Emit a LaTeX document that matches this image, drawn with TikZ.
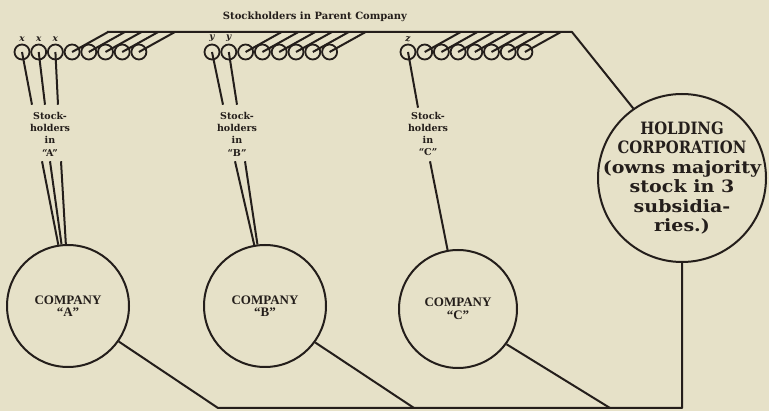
\documentclass[tikz,border=0pt]{standalone}
\usepackage{fontspec}
\usepackage{graphicx}
\usepackage{tikz}
\usetikzlibrary{positioning,calc}
\newfontfamily\holdfont[FakeStretch=1.12]{DejaVu Serif}
\newfontfamily\lblfont{DejaVu Serif}
\newfontfamily\compfont{Liberation Serif}
\definecolor{paper}{RGB}{230,225,200}
\definecolor{ink}{RGB}{36,30,27}
\newcommand{\capline}[1]{\scalebox{0.78}[1]{#1}}

\begin{document}
\begin{tikzpicture}[x=1pt, y=-1pt, line join=round,
    holder/.style={draw=ink, circle, line width=1.8pt, minimum size=15pt, inner sep=0pt},
    comp/.style={draw=ink, circle, line width=2pt, minimum size=122pt, inner sep=0pt, align=center, text=ink, font=\compfont\bfseries\fontsize{13}{12.5}\selectfont},
    hold/.style={draw=ink, circle, line width=2pt, minimum size=168pt, inner sep=0pt},
    holdtxt/.style={align=center, inner sep=0pt, text=ink, font=\holdfont\bfseries\fontsize{17}{19.5}\selectfont},
    lbl/.style={align=center, inner sep=1pt, text=ink, font=\lblfont\bfseries\fontsize{9.5}{12.3}\selectfont},
    tag/.style={inner sep=0pt, text=ink, font=\lblfont\bfseries\itshape\fontsize{9}{9}\selectfont},
    ln/.style={draw=ink, line width=2pt}
]
\fill[paper] (0,0) rectangle (769,411);
\useasboundingbox (0,0) rectangle (769,411);

\node[lbl, font=\lblfont\bfseries\fontsize{10}{12}\selectfont] (title) at (315,17) {Stockholders in Parent Company};

\foreach \i in {1,...,8} {
  \node[holder] (a\i) at ({22+16.7*(\i-1)},52) {};
  \node[holder] (b\i) at ({212+16.8*(\i-1)},52) {};
  \node[holder] (c\i) at ({408+16.7*(\i-1)},52) {};
}
\foreach \i in {1,2,3} \node[tag, above=1.5pt of a\i] (ax\i) {x};
\foreach \i in {1,2} \node[tag, above=1.5pt of b\i] (by\i) {y};
\node[tag, above=1.5pt of c1] (cz1) {z};

\coordinate (topL) at (107,32);
\coordinate (topR) at (572,32);

\node[lbl] (sA) at (50,134) {Stock-\\holders\\in\\“A”};
\node[lbl] (sB) at (237,134) {Stock-\\holders\\in\\“B”};
\node[lbl] (sC) at (428,134) {Stock-\\holders\\in\\“C”};

\node[comp] (cA) at (68,306) {COMPANY\\“A”};
\node[comp] (cB) at (265,306) {COMPANY\\“B”};
\node[comp, minimum size=118pt] (cC) at (458,309) {COMPANY\\“C”};
\node[hold] (hold) at (682,178) {};
\node[holdtxt] (holdtext) at (hold.center) {\capline{HOLDING}\\\capline{CORPORATION}\\(owns majority\\stock in 3\\subsidia-\\ries.)};

\coordinate (bA) at (218,408);
\coordinate (bB) at (414,408);
\coordinate (bC) at (610,408);
\coordinate (bH) at (682,408);

\foreach \i in {4,...,8} \draw[ln] (a\i.center) -- ($(a\i.center)+(36,-20)$);
\foreach \i in {3,...,8} \draw[ln] (b\i.center) -- ($(b\i.center)+(36,-20)$);
\foreach \i in {2,...,8} \draw[ln] (c\i.center) -- ($(c\i.center)+(36,-20)$);
\draw[ln] (topL) -- (topR) -- (hold.125);

\draw[ln] (a1.center) -- ($(sA.north)+(-18,-6)$);
\draw[ln] (a2.center) -- ($(sA.north)+(-5,-6)$);
\draw[ln] (a3.center) -- ($(sA.north)+(8,-6)$);
\draw[ln] ($(sA.south)+(-8,4)$) -- (cA.99);
\draw[ln] ($(sA.south)+(0,4)$) -- (cA.96);
\draw[ln] ($(sA.south)+(11,4)$) -- (cA.92);

\draw[ln] (b1.center) -- ($(sB.north)+(-14,-6)$);
\draw[ln] (b2.center) -- ($(sB.north)+(0,-6)$);
\draw[ln] ($(sB.south)+(-2,4)$) -- (cB.100);
\draw[ln] ($(sB.south)+(8,4)$) -- (cB.97);

\draw[ln] (c1.center) -- ($(sC.north)+(-10,-3)$);
\draw[ln] ($(sC.south)+(2,4)$) -- (cC.100);

\draw[ln] (cA.-35) -- (bA) -- (bH) -- (hold.south);
\draw[ln] (cB.-36) -- (bB);
\draw[ln] (cC.-36) -- (bC);
\end{tikzpicture}
\end{document}
